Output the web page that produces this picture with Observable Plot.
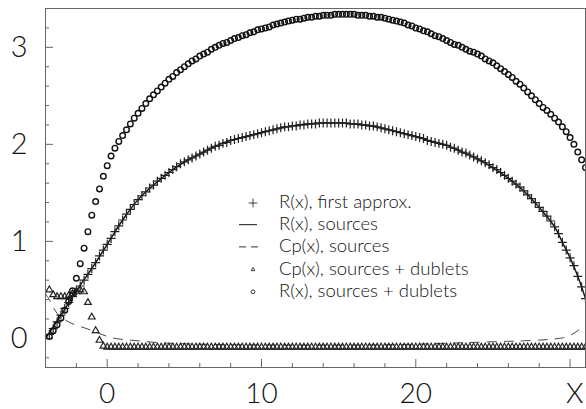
<!DOCTYPE html>
<html>
<head>
<meta charset="utf-8">
<script src="https://cdn.jsdelivr.net/npm/d3@7"></script>
<script src="https://cdn.jsdelivr.net/npm/@observablehq/plot@0.6"></script>
<style>
  html, body { margin: 0; padding: 0; background: #fff; }
  #chart svg { display: block; }
</style>
</head>
<body>
<div id="chart"></div>
<script>
// Densely sampled series share one abscissa grid: x = sampleStart + i * sampleStep
const sampleStart = -3.75;
const sampleStep = 0.25;

// R(x), sources + dublets (circles)
const rSourcesDublets = [
  0.02, 0.08, 0.14, 0.21,
  0.29, 0.38, 0.49, 0.62,
  0.77, 0.93, 1.10, 1.27,
  1.41, 1.54, 1.67, 1.78,
  1.88, 1.96, 2.03, 2.09,
  2.15, 2.21, 2.27, 2.32,
  2.37, 2.42, 2.47, 2.51,
  2.55, 2.59, 2.63, 2.67,
  2.70, 2.74, 2.77, 2.80,
  2.83, 2.86, 2.88, 2.91,
  2.93, 2.95, 2.98, 3.00,
  3.02, 3.04, 3.05, 3.07,
  3.09, 3.10, 3.12, 3.13,
  3.15, 3.16, 3.18, 3.19,
  3.20, 3.21, 3.23, 3.24,
  3.25, 3.26, 3.27, 3.28,
  3.29, 3.29, 3.30, 3.31,
  3.31, 3.32, 3.32, 3.33,
  3.33, 3.33, 3.34, 3.34,
  3.34, 3.34, 3.34, 3.34,
  3.33, 3.33, 3.33, 3.32,
  3.32, 3.31, 3.31, 3.30,
  3.29, 3.28, 3.27, 3.26,
  3.25, 3.23, 3.22, 3.20,
  3.19, 3.17, 3.16, 3.14,
  3.12, 3.11, 3.09, 3.07,
  3.05, 3.03, 3.02, 3.00,
  2.98, 2.96, 2.95, 2.93,
  2.91, 2.88, 2.86, 2.84,
  2.81, 2.78, 2.75, 2.72,
  2.69, 2.65, 2.62, 2.58,
  2.54, 2.50, 2.46, 2.42,
  2.38, 2.35, 2.31, 2.27,
  2.23, 2.18, 2.13, 2.07,
  2.00, 1.92, 1.84, 1.76
];

// R(x), first approx. (plus markers)
const rFirstApprox = [
  0.04, 0.10, 0.17, 0.24,
  0.31, 0.37, 0.43, 0.49,
  0.54, 0.60, 0.66, 0.72,
  0.78, 0.85, 0.91, 0.97,
  1.03, 1.10, 1.16, 1.22,
  1.28, 1.33, 1.38, 1.43,
  1.47, 1.51, 1.55, 1.58,
  1.62, 1.65, 1.68, 1.71,
  1.74, 1.77, 1.80, 1.82,
  1.84, 1.86, 1.88, 1.90,
  1.92, 1.94, 1.96, 1.98,
  1.99, 2.01, 2.02, 2.04,
  2.05, 2.06, 2.07, 2.08,
  2.09, 2.10, 2.11, 2.12,
  2.13, 2.14, 2.15, 2.16,
  2.17, 2.18, 2.18, 2.19,
  2.19, 2.20, 2.20, 2.21,
  2.21, 2.21, 2.22, 2.22,
  2.22, 2.22, 2.22, 2.22,
  2.22, 2.22, 2.21, 2.21,
  2.21, 2.20, 2.20, 2.19,
  2.19, 2.18, 2.17, 2.16,
  2.15, 2.14, 2.13, 2.12,
  2.11, 2.10, 2.09, 2.08,
  2.07, 2.06, 2.04, 2.03,
  2.02, 2.01, 2.00, 1.99,
  1.97, 1.96, 1.94, 1.92,
  1.91, 1.89, 1.87, 1.85,
  1.83, 1.81, 1.79, 1.76,
  1.74, 1.71, 1.68, 1.65,
  1.62, 1.59, 1.56, 1.52,
  1.48, 1.44, 1.40, 1.35,
  1.31, 1.26, 1.21, 1.15,
  1.08, 0.99, 0.91, 0.83,
  0.75, 0.64, 0.53, 0.41
];

// Cp(x), sources + dublets (triangles)
const cpSourcesDublets = [
  0.50, 0.45, 0.43, 0.43,
  0.43, 0.44, 0.46, 0.48,
  0.50, 0.48, 0.37, 0.22,
  0.08, -0.02, -0.08, -0.09,
  -0.09, -0.09, -0.09, -0.09,
  -0.09, -0.09, -0.09, -0.09,
  -0.09, -0.09, -0.09, -0.09,
  -0.09, -0.09, -0.09, -0.09,
  -0.09, -0.09, -0.09, -0.09,
  -0.09, -0.09, -0.09, -0.09,
  -0.09, -0.09, -0.09, -0.09,
  -0.09, -0.09, -0.09, -0.09,
  -0.09, -0.09, -0.09, -0.09,
  -0.09, -0.09, -0.09, -0.09,
  -0.09, -0.09, -0.09, -0.09,
  -0.09, -0.09, -0.09, -0.09,
  -0.09, -0.09, -0.09, -0.09,
  -0.09, -0.09, -0.09, -0.09,
  -0.09, -0.09, -0.09, -0.09,
  -0.09, -0.09, -0.09, -0.09,
  -0.09, -0.09, -0.09, -0.09,
  -0.09, -0.09, -0.09, -0.09,
  -0.09, -0.09, -0.09, -0.09,
  -0.09, -0.09, -0.09, -0.09,
  -0.09, -0.09, -0.09, -0.09,
  -0.09, -0.09, -0.09, -0.09,
  -0.09, -0.09, -0.09, -0.09,
  -0.09, -0.09, -0.09, -0.09,
  -0.09, -0.09, -0.09, -0.09,
  -0.09, -0.09, -0.09, -0.09,
  -0.09, -0.09, -0.09, -0.09,
  -0.09, -0.09, -0.09, -0.09,
  -0.09, -0.09, -0.09, -0.09,
  -0.09, -0.09, -0.09, -0.09,
  -0.09, -0.09, -0.09, -0.09
];

// R(x), sources (solid line)
const rSourcesX = [-4, -3, -2, -1, 0, 1, 2, 3, 4, 5, 6, 7, 8, 9, 10, 11, 12, 13, 14, 15,
  16, 17, 18, 19, 20, 21, 22, 23, 24, 25, 26, 27, 28, 29, 29.5, 30, 30.5, 31];
const rSourcesY = [0.00, 0.24, 0.49, 0.72, 0.97, 1.22, 1.43, 1.58, 1.71, 1.82, 1.90, 1.98, 2.04, 2.08, 2.12, 2.16, 2.19, 2.21, 2.22, 2.22,
  2.21, 2.19, 2.16, 2.12, 2.08, 2.03, 1.99, 1.92, 1.85, 1.76, 1.65, 1.52, 1.35, 1.15, 0.99, 0.83, 0.64, 0.41];

// Cp(x), sources (dashed line)
const cpSourcesX = [-4, -3.75, -3.5, -3.25, -3, -2.5, -2, -1.5, -1, -0.5, 0, 0.5, 1, 2, 3, 4, 5, 6, 8, 10,
  12, 14, 16, 18, 20, 22, 24, 26, 27, 28, 29, 29.5, 30, 30.5, 31];
const cpSourcesY = [0.46, 0.40, 0.32, 0.26, 0.22, 0.17, 0.135, 0.11, 0.08, 0.05, 0.02, 0.00, -0.01, -0.025, -0.04, -0.05, -0.055, -0.06, -0.065, -0.068,
  -0.07, -0.07, -0.07, -0.066, -0.06, -0.05, -0.04, -0.03, -0.025, -0.018, -0.005, 0.005, 0.03, 0.08, 0.14];

// Axes
const xDomain = [-4, 31];
const yDomain = [-0.3, 3.4];
const xTickLabels = [0, 10, 20];
const xMajorTicks = [0, 10, 20, 30];
const xMinorTicks = [-2, 2, 4, 6, 8, 12, 14, 16, 18, 22, 24, 26, 28];
const yTickLabels = [0, 1, 2, 3];
const yMajorTicks = [0, 1, 2, 3];
const yMinorTicks = [-0.2, 0.2, 0.4, 0.6, 0.8, 1.2, 1.4, 1.6, 1.8, 2.2, 2.4, 2.6, 2.8, 3.2];
const xAxisLabel = "X";

const legendLabels = [
  "R(x), first approx.",
  "R(x), sources",
  "Cp(x), sources",
  "Cp(x), sources + dublets",
  "R(x), sources + dublets"
];

const FONT = "Lato, Roboto, 'Open Sans', 'DejaVu Sans', sans-serif";
const INK = "#111";
const AXIS = "#666";

const W = 586, H = 409;
const mL = 45, mR = 1, mT = 8, mB = 42;
const innerW = W - mL - mR, innerH = H - mT - mB;

const sampled = (ys) => ys.map((y, i) => ({x: sampleStart + i * sampleStep, y}));
const paired = (xs, ys) => xs.map((x, i) => ({x, y: ys[i]}));

const circles = sampled(rSourcesDublets);
const pluses = sampled(rFirstApprox);
const triangles = sampled(cpSourcesDublets);
const solid = paired(rSourcesX, rSourcesY);
const dashed = paired(cpSourcesX, cpSourcesY);

const chart = Plot.plot({
  width: W,
  height: H,
  marginLeft: mL,
  marginRight: mR,
  marginTop: mT,
  marginBottom: mB,
  style: {fontFamily: FONT, background: "#fff", color: INK},
  x: {domain: xDomain, axis: null},
  y: {domain: yDomain, axis: null},
  marks: [
    // inward-pointing ticks on the left and bottom edges
    Plot.tickX(xMinorTicks, {x: d => d, insetTop: innerH - 4, stroke: AXIS}),
    Plot.tickX(xMajorTicks, {x: d => d, insetTop: innerH - 8, stroke: AXIS}),
    Plot.tickY(yMinorTicks, {y: d => d, insetRight: innerW - 4, stroke: AXIS}),
    Plot.tickY(yMajorTicks, {y: d => d, insetRight: innerW - 8, stroke: AXIS}),

    Plot.line(dashed, {x: "x", y: "y", stroke: "#444", strokeWidth: 1, strokeDasharray: "9,8", curve: "catmull-rom", clip: true}),
    Plot.line(solid, {x: "x", y: "y", stroke: INK, strokeWidth: 1.4, curve: "catmull-rom", clip: true}),
    Plot.dot(triangles, {x: "x", y: "y", symbol: "triangle2", r: 3.2, stroke: "#222", strokeWidth: 1.2, clip: true}),
    Plot.dot(pluses, {x: "x", y: "y", symbol: "plus", r: 3.0, stroke: "#222", strokeWidth: 1.2, clip: true}),
    Plot.dot(circles, {x: "x", y: "y", symbol: "circle", r: 2.8, stroke: "#111", fill: "none", strokeWidth: 1.4, clip: true}),

    Plot.frame({stroke: AXIS, strokeWidth: 1}),

    Plot.text(xTickLabels, {x: d => d, frameAnchor: "bottom", dy: 27, lineAnchor: "middle", text: d => String(d), fontSize: 28, fontWeight: 300, fill: INK}),
    Plot.text(yTickLabels, {y: d => d, frameAnchor: "left", dx: -18, textAnchor: "end", lineAnchor: "middle", text: d => String(d), fontSize: 29, fontWeight: 300, fill: INK}),
    Plot.text([xAxisLabel], {frameAnchor: "bottom-right", dx: -2, dy: 27, textAnchor: "end", lineAnchor: "middle", fontSize: 28, fontWeight: 300, fill: INK})
  ]
});

// Legend inside the plotting area
const svg = d3.select(chart);
const legend = svg.append("g")
  .attr("font-family", FONT)
  .attr("font-size", 18.5)
  .attr("font-weight", 300)
  .attr("text-anchor", "start")
  .attr("fill", INK);
const rowY = [201.5, 223.7, 245.9, 268.1, 290.3];
const symX = 253, textX = 279;

legend.append("path")
  .attr("transform", `translate(${symX},${rowY[0] + 1.5})`)
  .attr("d", d3.symbol(d3.symbolPlus, 26)())
  .attr("fill", "none").attr("stroke", INK).attr("stroke-width", 0.8);
legend.append("line")
  .attr("x1", 239).attr("x2", 257).attr("y1", rowY[1] + 1).attr("y2", rowY[1] + 1)
  .attr("stroke", INK).attr("stroke-width", 1);
legend.append("line")
  .attr("x1", 239).attr("x2", 258).attr("y1", rowY[2] + 1).attr("y2", rowY[2] + 1)
  .attr("stroke", "#333").attr("stroke-width", 1).attr("stroke-dasharray", "7,5");
legend.append("path")
  .attr("transform", `translate(${symX},${rowY[3] + 1.5})`)
  .attr("d", d3.symbol(d3.symbolTriangle2, 10)())
  .attr("fill", "none").attr("stroke", INK).attr("stroke-width", 0.8);
legend.append("circle")
  .attr("cx", symX).attr("cy", rowY[4] + 1.5).attr("r", 1.9)
  .attr("fill", "none").attr("stroke", INK).attr("stroke-width", 0.8);

legend.selectAll("text.lbl")
  .data(legendLabels)
  .join("text")
  .attr("class", "lbl")
  .attr("x", textX)
  .attr("y", (d, i) => rowY[i])
  .attr("dy", "0.35em")
  .text(d => d);

document.getElementById("chart").appendChild(chart);
</script>
</body>
</html>
